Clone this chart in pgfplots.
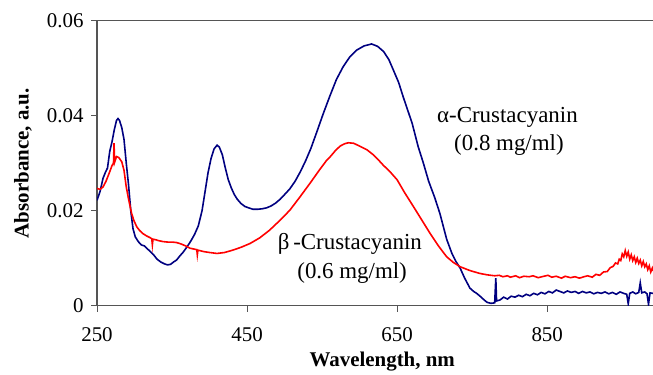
\documentclass[border=0pt]{standalone}
\usepackage{fontspec}
\setmainfont{Liberation Serif}
\usepackage{pgfplots}
\pgfplotsset{compat=1.18}
\definecolor{alphablue}{RGB}{0,0,128}
\definecolor{betared}{RGB}{255,0,0}
\definecolor{axisgray}{RGB}{85,85,85}

% alpha-crustacyanin, 0.8 mg/ml
\pgfplotstableread{
nm A
250 0.0222
254 0.0240
258 0.0268
261 0.0280
264 0.0290
267 0.0325
270 0.0345
273 0.0370
276 0.0390
278 0.0394
280 0.0390
283 0.0375
286 0.0350
289 0.0300
292 0.0255
295 0.0200
298 0.0162
301 0.0145
305 0.0135
309 0.0128
313 0.0126
317 0.0120
321 0.0114
325 0.0108
330 0.0098
335 0.0092
340 0.0088
344 0.0086
348 0.0087
352 0.0092
356 0.0096
360 0.0104
365 0.0113
370 0.0124
375 0.0136
380 0.0150
385 0.0168
390 0.0200
394 0.0240
398 0.0280
402 0.0310
406 0.0330
410 0.0338
413 0.0334
417 0.0318
421 0.0290
425 0.0265
429 0.0248
433 0.0234
437 0.0224
442 0.0215
447 0.0209
452 0.0206
458 0.0203
464 0.0203
470 0.0204
476 0.0206
482 0.0210
488 0.0216
494 0.0224
500 0.0234
507 0.0246
514 0.0262
521 0.0282
528 0.0305
535 0.0331
543 0.0366
551 0.0402
560 0.0440
569 0.0476
578 0.0503
587 0.0524
596 0.0538
606 0.0547
616 0.0551
624 0.0546
632 0.0535
639 0.0518
645 0.0496
652 0.0470
658 0.0440
664 0.0412
670 0.0384
678 0.0335
685 0.0300
692 0.0262
700 0.0228
707 0.0194
716 0.0140
723 0.0110
728 0.0094
734 0.0079
740 0.0058
747 0.0037
752 0.0030
756 0.0026
762 0.0018
766 0.0012
770 0.0007
775 0.0005
780 0.0006
781.5 0.0058
782.5 0.0010
787 0.0012
792 0.0018
797 0.0014
802 0.0020
807 0.0018
812 0.0022
817 0.0019
822 0.0024
827 0.0021
832 0.0026
837 0.0023
842 0.0028
847 0.0025
852 0.0030
857 0.0027
862 0.0033
867 0.0030
872 0.0027
877 0.0031
882 0.0028
887 0.0030
892 0.0026
897 0.0030
902 0.0027
907 0.0029
912 0.0025
917 0.0028
922 0.0026
927 0.0029
932 0.0025
937 0.0028
942 0.0024
947 0.0029
952 0.0026
956 0.0024
958 0.0004
960 0.0026
964 0.0029
968 0.0025
972 0.0028
974 0.0048
976 0.0027
980 0.0029
983 0.0025
985 0.0003
987 0.0027
991 0.0026
}\alphatab

% beta-crustacyanin, 0.6 mg/ml
\pgfplotstableread{
nm A
250 0.0247
254 0.0245
258 0.0250
262 0.0262
266 0.0278
270 0.0295
272 0.0300
272.7 0.0342
273.5 0.0302
276 0.0314
279 0.0312
283 0.0303
286 0.0285
289 0.0250
292 0.0225
296 0.0195
299 0.0180
303 0.0166
307 0.0158
311 0.0152
316 0.0147
321 0.0143
323 0.0141
323.8 0.0128
324.6 0.0140
328 0.0139
332 0.0137
338 0.0135
344 0.0134
350 0.0134
356 0.0133
362 0.0130
368 0.0126
374 0.0121
380 0.0119
383 0.0118
383.7 0.0107
384.5 0.0117
392 0.0114
400 0.0112
410 0.0110
420 0.0112
431 0.0117
442 0.0123
454 0.0131
467 0.0143
480 0.0159
494 0.0180
507 0.0201
520 0.0228
534 0.0258
547 0.0287
556 0.0306
561 0.0314
568 0.0327
574 0.0336
580 0.0341
585 0.0343
592 0.0342
600 0.0336
610 0.0328
618 0.0318
625 0.0307
632 0.0295
640 0.0283
650 0.0265
660 0.0238
672 0.0208
683 0.0180
694 0.0152
705 0.0126
716 0.0103
725 0.0091
734 0.0082
747 0.0074
760 0.0068
770 0.0065
780 0.0063
786 0.0064
791 0.0061
797 0.0063
801 0.0060
808 0.0063
813 0.0059
819 0.0062
826 0.0061
831 0.0063
838 0.0059
843 0.0061
851 0.0064
856 0.0060
862 0.0062
869 0.0058
874 0.0062
881 0.0059
887 0.0061
893 0.0058
899 0.0061
904 0.0063
910 0.0060
915 0.0066
920 0.0064
925 0.0071
930 0.0072
934 0.0080
938 0.0083
941 0.0090
944 0.0088
946 0.0098
948 0.0095
950 0.0109
952 0.0103
954 0.0116
956 0.0104
958 0.0113
960 0.0098
962 0.0107
964 0.0095
966 0.0103
968 0.0091
970 0.0100
972 0.0089
974 0.0096
976 0.0084
978 0.0093
980 0.0082
982 0.0088
984 0.0076
986 0.0084
988 0.0071
990 0.0079
991 0.0073
}\betatab

\begin{document}
\begin{tikzpicture}
\begin{axis}[
  scale only axis,
  width=556bp, height=285bp,
  xmin=250, xmax=991,
  ymin=0, ymax=0.06,
  axis x line*=bottom,
  axis y line*=left,
  axis line style={axisgray, line width=1.3bp},
  xtick={250,450,650,850},
  xticklabels={250,450,650,850},
  ytick={0,0.02,0.04,0.06},
  yticklabels={0,0.02,0.04,0.06},
  scaled x ticks=false,
  scaled y ticks=false,
  tick align=outside,
  major tick length=6bp,
  tick style={axisgray, line width=1bp},
  ticklabel style={font=\rmfamily\fontsize{21}{21}\selectfont},
  xticklabel style={yshift=-12bp},
  yticklabel style={xshift=-4bp},
  xlabel={\textbf{Wavelength, nm}},
  ylabel={\textbf{Absorbance, a.u.}},
  label style={font=\rmfamily\fontsize{21}{21}\selectfont},
  xlabel style={at={(axis description cs:0.513,-0.215)}, anchor=base},
  ylabel style={at={(axis description cs:-0.133,0.5)}, anchor=center},
]
\addplot[alphablue, line width=1.6bp] table[x=nm, y=A] {\alphatab};
\addplot[betared, line width=1.6bp] table[x=nm, y=A] {\betatab};
\draw[axisgray, line width=1.3bp] (rel axis cs:0,1) -- (rel axis cs:1,1);
\node[anchor=base, font=\rmfamily\fontsize{23}{23}\selectfont] at (axis cs:797,0.0385) {α-Crustacyanin};
\node[anchor=base, font=\rmfamily\fontsize{23}{23}\selectfont] at (axis cs:799,0.0326) {(0.8 mg/ml)};
\node[anchor=base, font=\rmfamily\fontsize{23}{23}\selectfont] at (axis cs:587,0.0119) {β\,-Crustacyanin};
\node[anchor=base, font=\rmfamily\fontsize{23}{23}\selectfont] at (axis cs:590,0.0058) {(0.6 mg/ml)};
\end{axis}
\pgfresetboundingbox
\useasboundingbox ([xshift=-97bp,yshift=-68.3bp]current axis.south west) rectangle ([yshift=20.7bp]current axis.north east);
\end{tikzpicture}
\end{document}
